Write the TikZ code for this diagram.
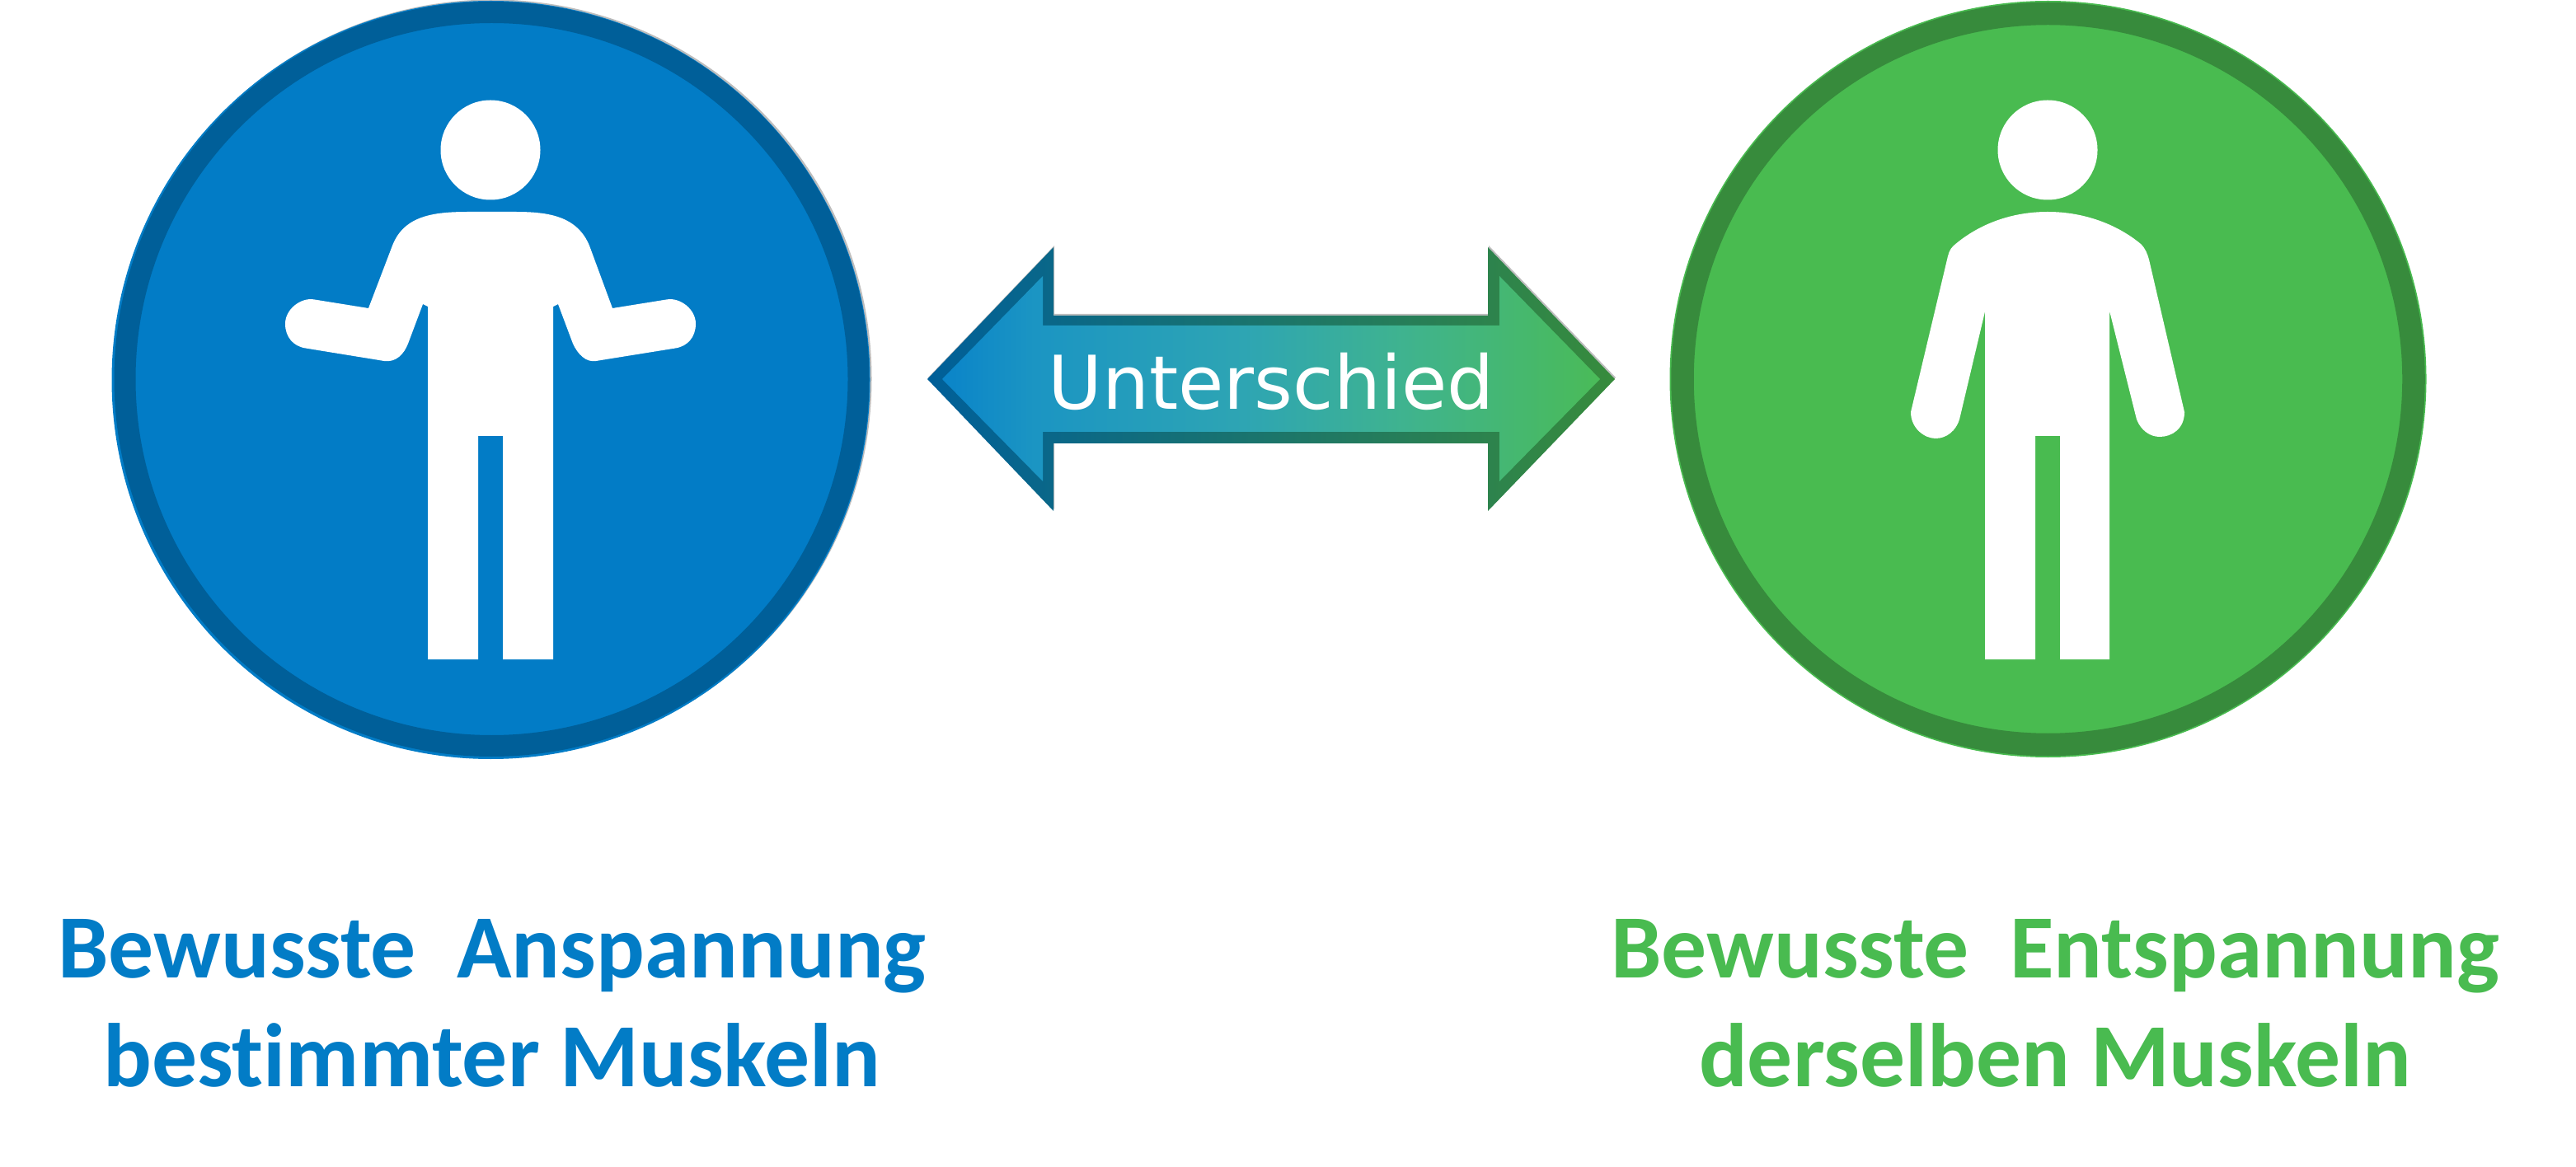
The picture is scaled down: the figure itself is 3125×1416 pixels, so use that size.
\documentclass[tikz,border=0pt]{standalone}
\usepackage{fontspec}
\usepackage{xcolor}
\setmainfont[Ligatures=NoCommon]{Carlito}
\newfontfamily\arrowfont{DejaVu Sans}
\definecolor{tenseblue}{HTML}{027CC6}
\definecolor{tenserim}{HTML}{005F99}
\definecolor{loosegreen}{HTML}{49BB50}
\definecolor{looserim}{HTML}{378B3C}
\definecolor{fadeone}{HTML}{0A84C9}
\definecolor{fadetwo}{HTML}{1B95C3}
\definecolor{fadethree}{HTML}{2EA5B3}
\definecolor{fadefour}{HTML}{3FB38F}
\definecolor{fadefive}{HTML}{4ABB58}
\definecolor{midrim}{HTML}{22787F}
\definecolor{edgegrey}{HTML}{BDBDBD}
\pgfdeclarehorizontalshading{arrowfade}{100bp}{
    color(0bp)=(fadeone); color(25bp)=(fadeone); color(32bp)=(fadetwo);
    color(48bp)=(fadethree); color(60bp)=(fadefour); color(75bp)=(fadefive); color(100bp)=(fadefive)}

\begin{document}
\begin{tikzpicture} [
    x=0.5pt, y=-0.5pt,
    disc/.style = {circle, inner sep=0pt, minimum size=445pt, line width=13pt},
    fringe/.style = {circle, inner sep=0pt, minimum size=460pt},
    head/.style = {circle, fill=white, inner sep=0pt, minimum size=60.5pt},
    figure/.style = {fill=white},
    rimarrow/.style = {left color=tenserim, middle color=midrim, right color=looserim},
    fillarrow/.style = {shading=arrowfade},
    arrowtext/.style = {anchor=base, text=white, inner sep=0pt, font=\arrowfont\fontsize{45}{54}\selectfont},
    caption/.style = {anchor=base, align=center, inner sep=0pt, font=\bfseries\fontsize{54.8}{65.8}\selectfont}
]
    \useasboundingbox (0,0) rectangle (3125,1416);

    \node (tenseedge) [fringe, fill=edgegrey] at (597.5,459.5) {};
    \node (tensefringe) [fringe, fill=tenseblue] at (595.5,461) {};
    \node (loosefringe) [fringe, fill=loosegreen, minimum size=459pt] at (2484.5,460) {};
    \node (tensedisc) [disc, draw=tenserim, fill=tenseblue] at (596.5,460) {};
    \node (loosedisc) [disc, draw=looserim, fill=loosegreen, minimum size=443.5pt, line width=13.75pt] at (2484.5,460) {};

    \node (tensehead) [head] at (595,182) {};
    \node (loosehead) [head] at (2484,182) {};

    \fill [figure] (595,257) -- (568,257) .. controls (525,257) and (490,262) .. (476,298)
        -- (447,374) -- (381,363.4) .. controls (365,360.7) and (346,375) .. (346,393)
        .. controls (346,409) and (356,420.5) .. (371.3,422.6) -- (466,438)
        .. controls (480,440) and (490,430) .. (495,417) -- (513,369) -- (519,372)
        -- (519,800) -- (580,800) -- (580,529) -- (610,529) -- (610,800) -- (671,800)
        -- (671,372) -- (677,369) -- (695,417) .. controls (701,430) and (711,440) .. (723,438)
        -- (818.7,422.6) .. controls (834,420.5) and (844,409) .. (844,393)
        .. controls (844,375) and (825,360.7) .. (809,363.4) -- (743,374) -- (715,298)
        .. controls (700,262) and (665,257) .. (625,257) -- cycle;

    \fill [figure] (2484,257) .. controls (2440,257) and (2400,272) .. (2370,298)
        .. controls (2365,302) and (2363,310) .. (2362,315) -- (2318,500)
        .. controls (2318,520) and (2335,532) .. (2348,532)
        .. controls (2362,532) and (2373,522) .. (2377,509) -- (2408,378)
        -- (2408,800) -- (2469,800) -- (2469,529) -- (2499,529) -- (2499,800) -- (2559,800)
        -- (2559,377) -- (2592,509) .. controls (2597,522) and (2608,530) .. (2620,530)
        .. controls (2635,530) and (2650,520) .. (2650,500) -- (2607,315)
        .. controls (2605,308) and (2603,302) .. (2597,296)
        .. controls (2568,272) and (2528,257) .. (2484,257) -- cycle;

    \fill [edgegrey, shift={(1,-2)}] (1125,460) -- (1278,300) -- (1278,383) -- (1805,383) -- (1805,300)
        -- (1959,460) -- (1805,620) -- (1805,538) -- (1278,538) -- (1278,620) -- cycle;
    \path [rimarrow] (1125,460) -- (1278,300) -- (1278,383) -- (1805,383) -- (1805,300)
        -- (1959,460) -- (1805,620) -- (1805,538) -- (1278,538) -- (1278,620) -- cycle;
    \path [fillarrow] (1143,460) -- (1265,335) -- (1265,395) -- (1819,395) -- (1819,335)
        -- (1941,460) -- (1819,584) -- (1819,524) -- (1265,524) -- (1265,584) -- cycle;

    \node (difflabel) [arrowtext] at (1542,497) {Unterschied};

    \node (tensetext) [caption, text=tenseblue] at (597,1318) {Bewusste\ \ Anspannung\\bestimmter Muskeln};
    \node (loosetext) [caption, text=loosegreen] at (2493,1318) {Bewusste\ \ Entspannung\\derselben Muskeln};
\end{tikzpicture}
\end{document}
